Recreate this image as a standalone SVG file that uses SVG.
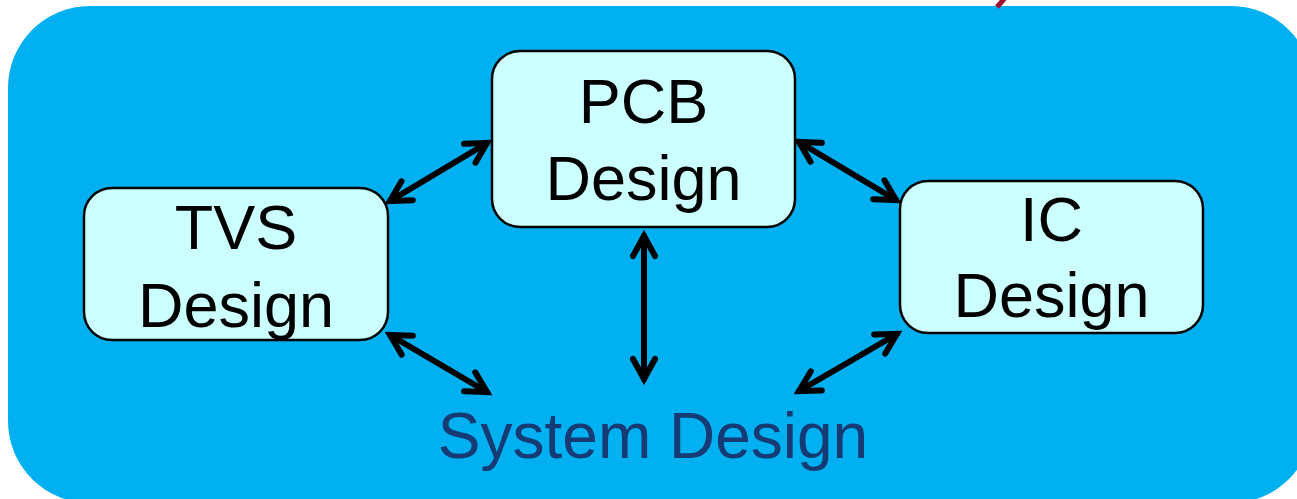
<svg xmlns="http://www.w3.org/2000/svg" width="1297" height="499" viewBox="0 0 1297 499">
<style>
.bg{fill:#00B0F0}
.box{fill:#CCFFFF;stroke:#000;stroke-width:2.5}
.lbl{font-family:"Liberation Sans",Arial,sans-serif;font-size:63px;fill:#000;text-anchor:middle}
.sys{font-family:"Liberation Sans",Arial,sans-serif;font-size:64px;fill:#163A74;text-anchor:middle}
.conn{fill:none;stroke:#000;stroke-width:6;stroke-linecap:round;marker-start:url(#ah);marker-end:url(#ah)}
</style>
<defs>
<marker id="ah" markerUnits="userSpaceOnUse" viewBox="-30 -20 40 40" markerWidth="40" markerHeight="40" refX="0" refY="0" orient="auto-start-reverse" overflow="visible">
<path d="M -20 -11 L 0 0 L -20 11" fill="none" stroke="#000" stroke-width="6" stroke-linecap="round" stroke-linejoin="miter"/>
</marker>
</defs>
<rect class="bg" x="8" y="6" width="1305" height="497" rx="82" ry="82"/>
<line x1="997" y1="7" x2="1005" y2="-2" stroke="#A0102E" stroke-width="5"/>
<g id="connectors">
<path class="conn" d="M 390 201 L 487 143"/>
<path class="conn" d="M 799 142 L 896 200"/>
<path class="conn" d="M 390 335 L 487 392"/>
<path class="conn" d="M 897 334 L 799 391"/>
<path class="conn" d="M 644 236 L 644 379"/>
</g>
<g id="pcb">
<rect class="box" x="492" y="51" width="303" height="176" rx="28" ry="28"/>
<text class="lbl" x="643.5" y="123">PCB</text>
<text class="lbl" x="643.5" y="200">Design</text>
</g>
<g id="tvs">
<rect class="box" x="84" y="188" width="304" height="152" rx="28" ry="28"/>
<text class="lbl" x="236" y="249">TVS</text>
<text class="lbl" x="236" y="327">Design</text>
</g>
<g id="ic">
<rect class="box" x="900" y="181" width="303" height="152" rx="28" ry="28"/>
<text class="lbl" x="1051.5" y="241">IC</text>
<text class="lbl" x="1051.5" y="317">Design</text>
</g>
<g id="system">
<text class="sys" x="653" y="458">System Design</text>
</g>
</svg>
